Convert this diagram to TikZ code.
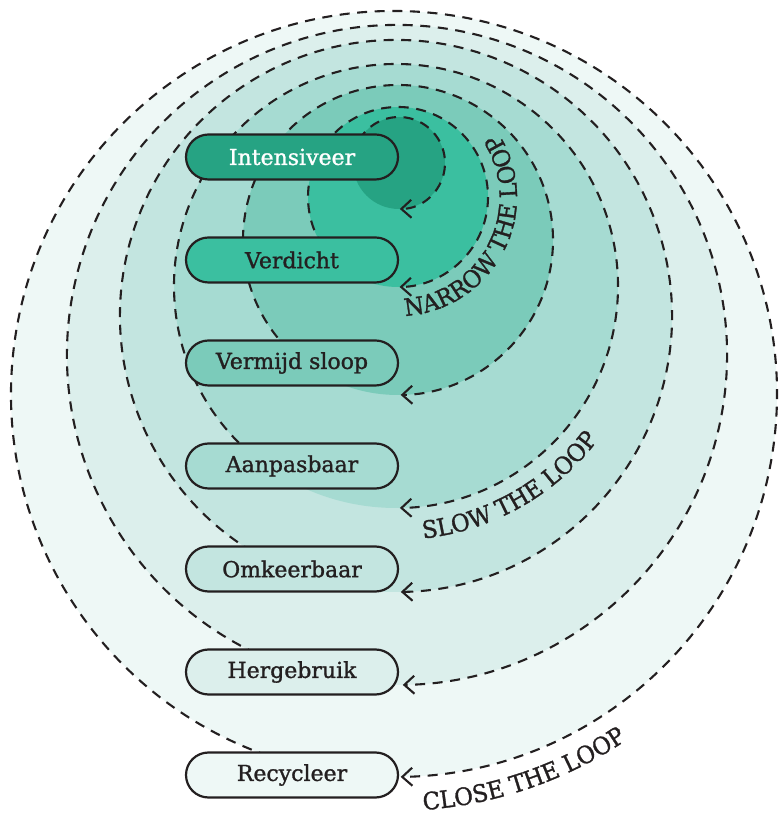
\documentclass[tikz,border=0pt]{standalone}
\usepackage{fontspec}
\setmainfont{DejaVu Serif}
\newfontfamily\stagefont{DejaVu Serif}[RawFeature={embolden=1.2}]
\newfontfamily\loopcaps{DejaVu Serif}[FakeStretch=0.95,RawFeature={embolden=1.2}]
\usetikzlibrary{arrows.meta,decorations.text}
\definecolor{loopA}{HTML}{26A383}
\definecolor{loopB}{HTML}{3BBFA0}
\definecolor{loopC}{HTML}{7BCBBA}
\definecolor{loopD}{HTML}{A6DBD2}
\definecolor{loopE}{HTML}{C3E5E0}
\definecolor{loopF}{HTML}{DCEFEC}
\definecolor{loopG}{HTML}{EEF8F6}
\definecolor{ink}{HTML}{231F20}
\newcommand{\loopfont}{\loopcaps\fontsize{12}{14}\selectfont}
\tikzstyle{loop line}=[draw=ink,line width=1.05pt,dash pattern=on 5pt off 3.8pt,-{Straight Barb[length=5pt,width=9pt]}]
\tikzstyle{stage}=[draw=ink,line width=1.1pt,rounded corners=11.25pt,minimum width=106pt,minimum height=22.5pt,inner sep=0pt,font=\stagefont\fontsize{11}{13}\selectfont]
\tikzstyle{loop text}=[decorate,decoration={text along path,text align=center}]

\begin{document}
\begin{tikzpicture}[x=0.5pt,y=0.5pt]
    \useasboundingbox (0,0) rectangle (778,813);
    % First we place the centres of the circles
    \foreach \cx/\cy/\name in {394/419/c7, 397/458/c6, 396/497/c5, 396/527/c4, 398/573/c3, 398/616/c2, 399/650/c1}
        \coordinate (\name) at (\cx,\cy);

    % Filled circles, the largest one first
    \foreach \name/\rad/\col in {c7/383/loopG, c6/330/loopF, c5/276/loopE, c4/222/loopD, c3/155/loopC, c2/90/loopB, c1/46/loopA}
        \fill[\col] (\name) circle[radius=\rad];

    % Dashed loops, each ends with an arrow at the bottom
    \foreach \name/\rad/\start in {c1/46/172, c2/90/224, c3/155/232, c4/222/234, c5/276/246, c6/330/254, c7/383/264}
        \draw[loop line] (\name) ++(\start:\rad) arc[start angle=\start, end angle=-89, radius=\rad];

    % The stages
    \foreach \y/\name/\col/\txt/\word in {656/intensiveer/loopA/white/Intensiveer, 553/verdicht/loopB/ink/Verdicht, 450/vermijd/loopC/ink/Vermijd sloop, 347/aanpasbaar/loopD/ink/Aanpasbaar, 244/omkeerbaar/loopE/ink/Omkeerbaar, 141/hergebruik/loopF/ink/Hergebruik, 38/recycleer/loopG/ink/Recycleer}
        \node[stage, fill=\col, text=\txt] (\name) at (292,\y) {\word};

    % Names of the loops
    \path[loop text, decoration={text={|\loopfont\color{ink}|NARROW THE LOOP}}] (c2) ++(-90:119) arc[start angle=-90, end angle=36, radius=119];
    \path[loop text, decoration={text={|\loopfont\color{ink}|SLOW THE LOOP}}] (c4) ++(-89:254) arc[start angle=-89, end angle=-32, radius=254];
    \path[loop text, decoration={text={|\loopfont\color{ink}|CLOSE THE LOOP}}] (c7) ++(-90:417) arc[start angle=-90, end angle=-52, radius=417];
\end{tikzpicture}
\end{document}
